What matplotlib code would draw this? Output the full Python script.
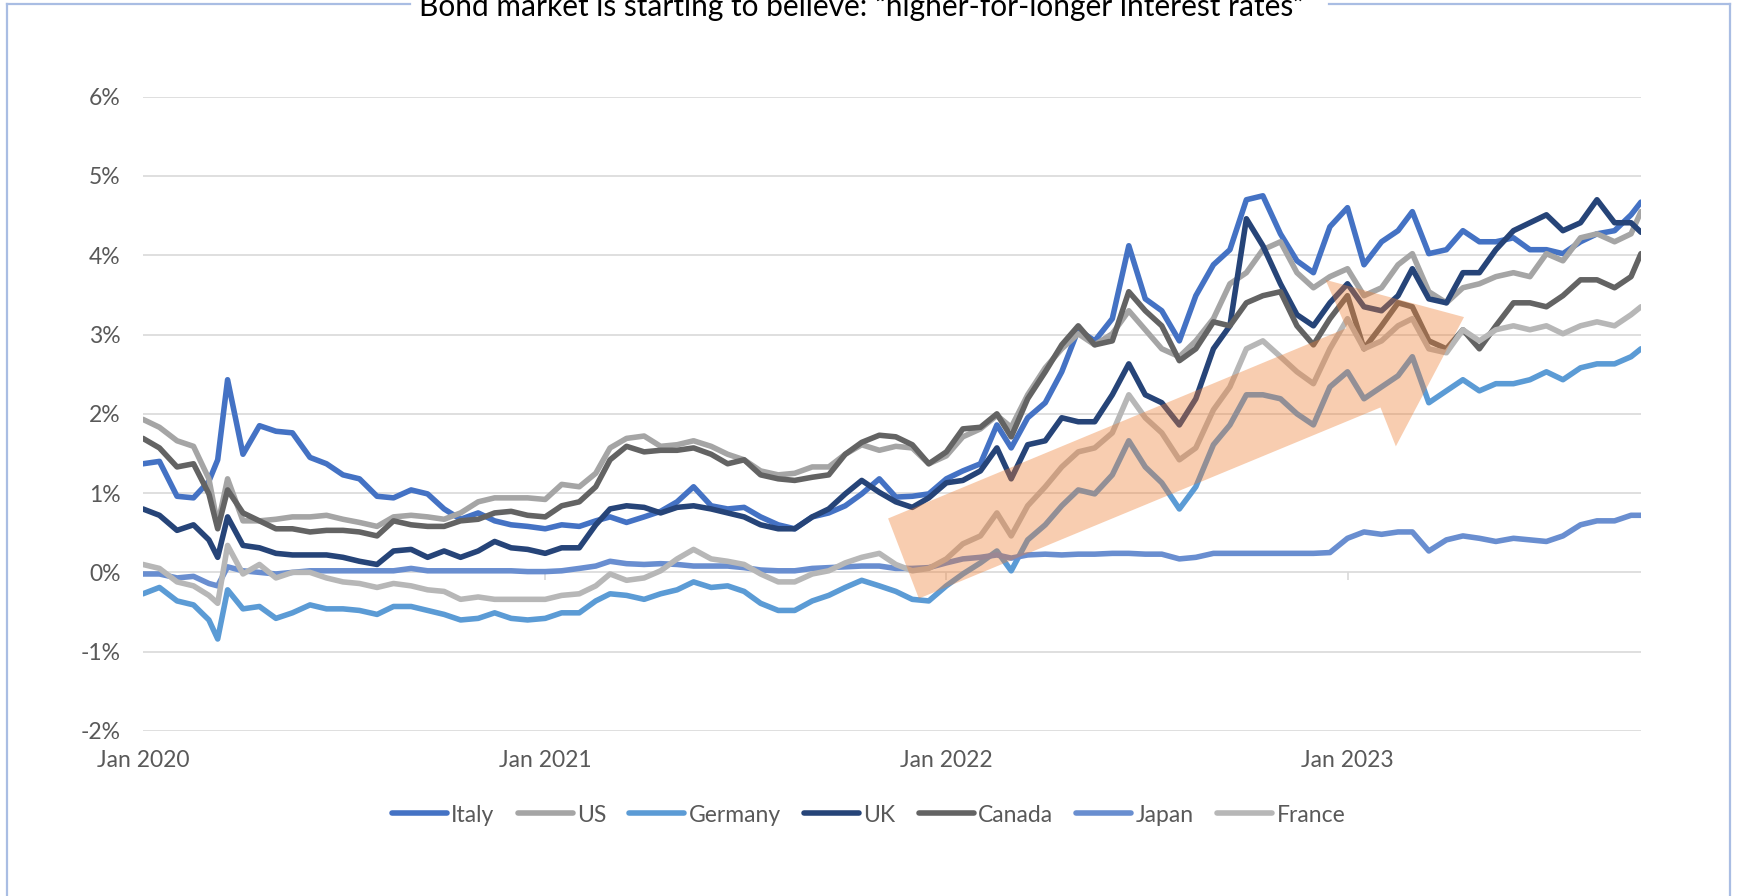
import matplotlib
matplotlib.use("Agg")
import matplotlib.pyplot as plt
import matplotlib.dates as mdates
from matplotlib import font_manager
from matplotlib.lines import Line2D
from matplotlib.patches import Polygon
import pandas as pd

names = {f.name for f in font_manager.fontManager.ttflist}
font = "Liberation Sans Narrow" if "Liberation Sans Narrow" in names else "Lato"
plt.rcParams["font.family"] = [font, "DejaVu Sans"]

# sample dates: 1st and 16th of each month, with extra points round the March 2020 spike
dates = []
for y in range(2020, 2024):
    for mo in range(1, 13):
        if y == 2023 and mo > 9:
            break
        dates += [f"{y}-{mo:02d}-01", f"{y}-{mo:02d}-16"]
i = dates.index("2020-03-16")
dates[i:i + 1] = ["2020-03-09", "2020-03-18"]
dates.append("2023-09-25")
dates = pd.to_datetime(dates)

italy = [1.37, 1.40, 0.96, 0.94, 1.15, 1.42, 2.43, 1.49, 1.85, 1.78, 1.76, 1.45, 1.37, 1.23, 1.18, 0.96, 0.94, 1.04, 0.99, 0.80, 0.67, 0.75, 0.65, 0.60,
         0.58, 0.55, 0.60, 0.58, 0.65, 0.70, 0.63, 0.70, 0.77, 0.89, 1.08, 0.84, 0.80, 0.82, 0.70, 0.60, 0.55, 0.70, 0.75, 0.84, 0.99, 1.18,
         0.95, 0.96, 0.99, 1.18, 1.28, 1.37, 1.86, 1.57, 1.95, 2.14, 2.53, 3.06, 2.92, 3.20, 4.12, 3.45, 3.30, 2.92, 3.49, 3.88, 4.07, 4.70,
         4.75, 4.27, 3.93, 3.78, 4.36, 4.60, 3.88, 4.17, 4.31, 4.55, 4.02, 4.07, 4.31, 4.17, 4.17, 4.22, 4.07, 4.07, 4.02, 4.17, 4.27, 4.31, 4.51, 4.67]
us = [1.93, 1.83, 1.66, 1.59, 1.18, 0.60, 1.18, 0.65, 0.65, 0.67, 0.70, 0.70, 0.72, 0.67, 0.63, 0.58, 0.70, 0.72, 0.70, 0.67, 0.75, 0.89, 0.94, 0.94,
      0.94, 0.92, 1.11, 1.08, 1.25, 1.57, 1.69, 1.72, 1.59, 1.61, 1.66, 1.59, 1.49, 1.42, 1.28, 1.23, 1.25, 1.33, 1.33, 1.49, 1.61, 1.54,
      1.59, 1.57, 1.37, 1.47, 1.71, 1.81, 1.98, 1.83, 2.24, 2.58, 2.82, 3.01, 2.87, 3.01, 3.30, 3.06, 2.82, 2.72, 2.92, 3.20, 3.64, 3.78,
      4.07, 4.17, 3.78, 3.59, 3.73, 3.83, 3.49, 3.59, 3.88, 4.02, 3.54, 3.40, 3.59, 3.64, 3.73, 3.78, 3.73, 4.02, 3.93, 4.22, 4.27, 4.17, 4.27, 4.55]
germany = [-0.27, -0.19, -0.36, -0.41, -0.60, -0.84, -0.22, -0.46, -0.43, -0.58, -0.51, -0.41, -0.46, -0.46, -0.48, -0.53, -0.43, -0.43, -0.48, -0.53, -0.60, -0.58, -0.51, -0.58,
           -0.60, -0.58, -0.51, -0.51, -0.36, -0.27, -0.29, -0.34, -0.27, -0.22, -0.12, -0.19, -0.17, -0.24, -0.39, -0.48, -0.48, -0.36, -0.29, -0.19, -0.10, -0.17,
           -0.24, -0.34, -0.36, -0.17, -0.02, 0.12, 0.27, 0.02, 0.41, 0.60, 0.84, 1.04, 0.99, 1.23, 1.66, 1.33, 1.13, 0.80, 1.08, 1.61, 1.86, 2.24,
           2.24, 2.19, 2.00, 1.86, 2.34, 2.53, 2.19, 2.34, 2.48, 2.72, 2.14, 2.29, 2.43, 2.29, 2.38, 2.38, 2.43, 2.53, 2.43, 2.58, 2.63, 2.63, 2.72, 2.82]
uk = [0.80, 0.72, 0.53, 0.60, 0.41, 0.19, 0.70, 0.34, 0.31, 0.24, 0.22, 0.22, 0.22, 0.19, 0.14, 0.10, 0.27, 0.29, 0.19, 0.27, 0.19, 0.27, 0.39, 0.31,
      0.29, 0.24, 0.31, 0.31, 0.60, 0.80, 0.84, 0.82, 0.75, 0.82, 0.84, 0.80, 0.75, 0.70, 0.60, 0.55, 0.55, 0.70, 0.80, 0.99, 1.16, 1.01,
      0.89, 0.82, 0.94, 1.13, 1.16, 1.28, 1.57, 1.18, 1.61, 1.66, 1.95, 1.90, 1.90, 2.24, 2.63, 2.24, 2.14, 1.86, 2.19, 2.82, 3.11, 4.46,
      4.12, 3.64, 3.25, 3.11, 3.40, 3.64, 3.35, 3.30, 3.49, 3.83, 3.45, 3.40, 3.78, 3.78, 4.07, 4.31, 4.41, 4.51, 4.31, 4.41, 4.70, 4.41, 4.41, 4.29]
canada = [1.69, 1.57, 1.33, 1.37, 0.99, 0.55, 1.04, 0.75, 0.65, 0.55, 0.55, 0.51, 0.53, 0.53, 0.51, 0.46, 0.65, 0.60, 0.58, 0.58, 0.65, 0.67, 0.75, 0.77,
          0.72, 0.70, 0.84, 0.89, 1.08, 1.42, 1.59, 1.52, 1.54, 1.54, 1.57, 1.49, 1.37, 1.42, 1.23, 1.18, 1.16, 1.20, 1.23, 1.49, 1.64, 1.73,
          1.71, 1.61, 1.37, 1.52, 1.81, 1.83, 2.00, 1.71, 2.19, 2.53, 2.87, 3.11, 2.87, 2.92, 3.54, 3.30, 3.11, 2.67, 2.82, 3.16, 3.11, 3.40,
          3.49, 3.54, 3.11, 2.87, 3.20, 3.49, 2.82, 3.11, 3.40, 3.35, 2.92, 2.82, 3.06, 2.82, 3.11, 3.40, 3.40, 3.35, 3.49, 3.69, 3.69, 3.59, 3.73, 4.02]
japan = [-0.02, -0.02, -0.07, -0.05, -0.14, -0.17, 0.07, 0.02, 0.00, -0.02, 0.00, 0.02, 0.02, 0.02, 0.02, 0.02, 0.02, 0.05, 0.02, 0.02, 0.02, 0.02, 0.02, 0.02,
         0.01, 0.01, 0.02, 0.05, 0.08, 0.14, 0.11, 0.10, 0.11, 0.10, 0.08, 0.08, 0.08, 0.06, 0.03, 0.02, 0.02, 0.05, 0.06, 0.07, 0.08, 0.08,
         0.05, 0.05, 0.06, 0.12, 0.17, 0.19, 0.22, 0.18, 0.22, 0.23, 0.22, 0.23, 0.23, 0.24, 0.24, 0.23, 0.23, 0.17, 0.19, 0.24, 0.24, 0.24,
         0.24, 0.24, 0.24, 0.24, 0.25, 0.43, 0.51, 0.48, 0.51, 0.51, 0.27, 0.41, 0.46, 0.43, 0.39, 0.43, 0.41, 0.39, 0.46, 0.60, 0.65, 0.65, 0.72, 0.72]
france = [0.10, 0.05, -0.12, -0.17, -0.29, -0.39, 0.34, -0.02, 0.10, -0.07, 0.00, 0.00, -0.07, -0.12, -0.14, -0.19, -0.14, -0.17, -0.22, -0.24, -0.34, -0.31, -0.34, -0.34,
          -0.34, -0.34, -0.29, -0.27, -0.17, -0.02, -0.10, -0.07, 0.02, 0.17, 0.29, 0.17, 0.14, 0.10, -0.02, -0.12, -0.12, -0.02, 0.02, 0.12, 0.19, 0.24,
          0.10, 0.02, 0.05, 0.17, 0.36, 0.46, 0.75, 0.46, 0.84, 1.08, 1.33, 1.52, 1.57, 1.76, 2.24, 1.95, 1.76, 1.42, 1.57, 2.05, 2.34, 2.82,
          2.92, 2.72, 2.53, 2.38, 2.82, 3.20, 2.82, 2.92, 3.11, 3.20, 2.82, 2.77, 3.06, 2.92, 3.06, 3.11, 3.06, 3.11, 3.01, 3.11, 3.16, 3.11, 3.25, 3.35]

series = ["Italy", "US", "Germany", "UK", "Canada", "Japan", "France"]
values = [italy, us, germany, uk, canada, japan, france]
colors = ["#4472C4", "#A5A5A5", "#5B9BD5", "#264478", "#636363", "#698ED0", "#B7B7B7"]

# the "higher for longer" arrow, corners in (date, yield %)
arrow_dates = ["2021-11-09", "2022-12-31", "2022-12-12", "2023-04-17", "2023-02-14", "2023-01-31", "2021-12-07"]
arrow_vals = [0.68, 3.08, 3.69, 3.22, 1.59, 2.08, -0.33]

title = "Bond market is starting to believe: \u201chigher-for-longer interest rates\u201d"
text_col = "#595959"
grid_col = "#D9D9D9"

fig = plt.figure(figsize=(17.37, 8.96), dpi=100)
ax = fig.add_axes([0.0823, 0.1842, 0.9447 - 0.0823, 0.8921 - 0.1842])

for name, vals, c in zip(series, values, colors):
    ax.plot(dates, vals, color=c, lw=4.0, label=name,
            solid_capstyle="round", solid_joinstyle="round")

xy = [(mdates.date2num(pd.Timestamp(d)), v) for d, v in zip(arrow_dates, arrow_vals)]
ax.add_patch(Polygon(xy, closed=True, facecolor="#ED7D31", edgecolor="none", alpha=0.38, zorder=5))

ax.set_ylim(-2, 6)
ax.set_xlim(dates[0], dates[-1])
ax.set_yticks(range(-2, 7))
ax.set_yticklabels([f"{v}%" for v in range(-2, 7)])
years = pd.to_datetime(["2020-01-01", "2021-01-01", "2022-01-01", "2023-01-01"])
ax.set_xticks(years)
ax.set_xticklabels([d.strftime("Jan %Y") for d in years])
ax.tick_params(axis="both", length=0, labelsize=16.5, colors=text_col)
ax.tick_params(axis="x", pad=14)
ax.tick_params(axis="y", pad=16)
ax.grid(axis="y", color=grid_col, lw=1.2)
ax.set_axisbelow(True)
for s in ax.spines.values():
    s.set_visible(False)
# small year tick marks hanging off the zero line
ax.vlines(years[1:], -0.09, 0, color=grid_col, lw=1.2, zorder=1)

fig.legend(loc="center", bbox_to_anchor=(0.5, 1 - 815 / 896), ncol=7, frameon=False,
           fontsize=16.5, labelcolor=text_col, handlelength=2.4, handletextpad=0.2,
           columnspacing=1.0)

# chart frame with a gap for the title
fc = "#A9BDE3"
fig.add_artist(Line2D([7 / 1737, 7 / 1737], [0, 1 - 4 / 896], color=fc, lw=1.6, transform=fig.transFigure))
fig.add_artist(Line2D([1730 / 1737, 1730 / 1737], [0, 1 - 4 / 896], color=fc, lw=1.6, transform=fig.transFigure))
fig.add_artist(Line2D([7 / 1737, 410 / 1737], [1 - 4 / 896] * 2, color=fc, lw=1.6, transform=fig.transFigure))
fig.add_artist(Line2D([1329 / 1737, 1730 / 1737], [1 - 4 / 896] * 2, color=fc, lw=1.6, transform=fig.transFigure))
fig.text(862 / 1737, 1 - 16 / 896, title, ha="center", va="baseline", fontsize=21.5, color="black")

fig.savefig("out.png", dpi=100, facecolor="white")
